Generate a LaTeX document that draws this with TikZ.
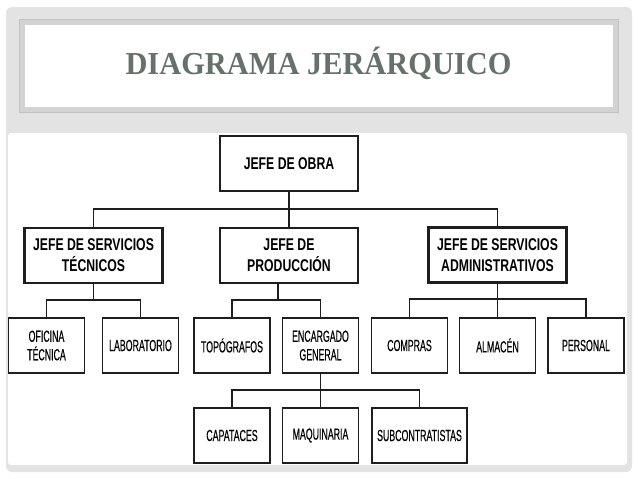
\documentclass[tikz,border=0pt]{standalone}
\usepackage{fontspec}
\newfontfamily\titlefont[FakeStretch=0.95]{Liberation Serif}
\newfontfamily\jefefont[FakeStretch=0.72]{Liberation Sans}
\newfontfamily\unidadfont[FakeStretch=0.55,FakeBold=0.4]{Liberation Sans}
\definecolor{titulo}{HTML}{65716B}
\definecolor{panel}{HTML}{E3E3E3}
\definecolor{marco}{HTML}{D3D3D3}
\definecolor{filo}{HTML}{C2C2C2}
\definecolor{trazo}{HTML}{1E1E1E}

\begin{document}
\begin{tikzpicture}[x=1pt,y=-1pt,
    jefe/.style={draw=trazo,line width=2.2pt,fill=white,minimum width=138pt,
      minimum height=55pt,align=center,inner sep=0pt,
      font=\jefefont\bfseries\fontsize{17}{21}\selectfont},
    unidad/.style={draw=trazo,line width=1.4pt,fill=white,minimum width=76pt,
      minimum height=55pt,align=center,inner sep=0pt,
      font=\unidadfont\fontsize{16}{18.5}\selectfont},
    linea/.style={draw=trazo,line width=1.4pt}]
    \useasboundingbox (0,0) rectangle (638,479);
    \fill[white] (0,0) rectangle (638,479);
    \fill[panel,rounded corners=6pt] (6,7) rectangle (632,472);
    \fill[marco] (19,19) rectangle (619,113);
    \draw[filo,line width=0.8pt] (19.5,19.5) rectangle (618.5,112.5);
    \fill[white] (25,25) rectangle (613,107);
    \fill[white,rounded corners=3pt] (8,133) rectangle (627,465);
    \node[font=\titlefont\bfseries\fontsize{32}{36}\selectfont,text=titulo,anchor=base]
      (titulo) at (318.5,74.3) {DIAGRAMA JERÁRQUICO};

    \node[jefe] (obra) at (289,163.5) {JEFE DE OBRA};
    \node[jefe] (tecnicos) at (93.5,255.5) {JEFE DE SERVICIOS\\TÉCNICOS};
    \node[jefe] (produccion) at (289,255.5) {JEFE DE\\PRODUCCIÓN};
    \node[jefe] (admin) at (497.5,255) {JEFE DE SERVICIOS\\ADMINISTRATIVOS};

    \node[unidad] (oficina) at (46.5,345.5) {OFICINA\\TÉCNICA};
    \node[unidad] (laboratorio) at (140.5,345.5) {LABORATORIO};
    \node[unidad] (topografos) at (232,345.5) {TOPÓGRAFOS};
    \node[unidad] (encargado) at (320.5,345.5) {ENCARGADO\\GENERAL};
    \node[unidad] (compras) at (409.5,345.5) {COMPRAS};
    \node[unidad] (almacen) at (497.5,345.5) {ALMACÉN};
    \node[unidad] (personal) at (586,345.5) {PERSONAL};

    \node[unidad] (capataces) at (232,435.5) {CAPATACES};
    \node[unidad] (maquinaria) at (320.5,435.5) {MAQUINARIA};
    \node[unidad,minimum width=95pt] (subcontratistas) at (419.5,435.5) {SUBCONTRATISTAS};

    % buses
    \coordinate (bus0) at (289,209);
    \coordinate (busT) at (93.5,300);
    \coordinate (busP) at (278,300);
    \coordinate (busA) at (497.5,299);
    \coordinate (busE) at (320.5,390);

    \draw[linea] (obra) -- (produccion);
    \draw[linea] (tecnicos) |- (bus0) -| (admin);
    \draw[linea] (tecnicos) -- (busT);
    \draw[linea] (oficina) |- (busT) -| (laboratorio);
    \draw[linea] (busP |- produccion.south) -- (busP);
    \draw[linea] (topografos) |- (busP) -| (encargado);
    \draw[linea] (admin) -- (busA);
    \draw[linea] (compras) |- (busA) -| (personal);
    \draw[linea] (almacen) -- (busA);
    \draw[linea] (encargado) -- (maquinaria);
    \draw[linea] (capataces) |- (busE) -| (subcontratistas);
  \end{tikzpicture}
\end{document}
